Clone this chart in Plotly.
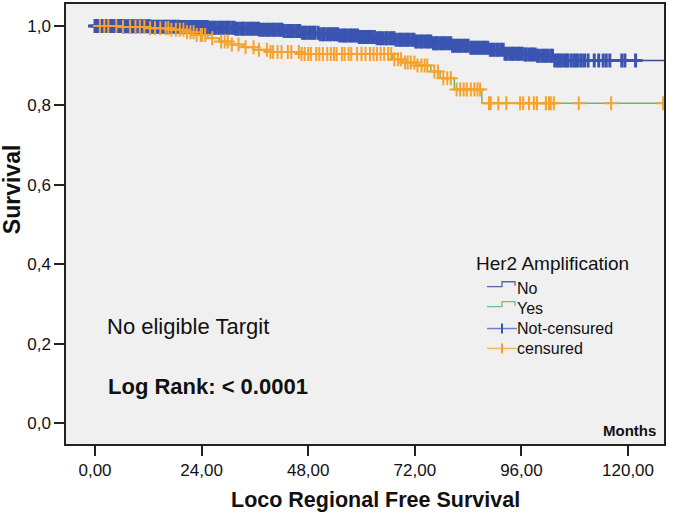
import numpy as np
import plotly.graph_objects as go

# ---------------- data ----------------
no_event_months = [0, 6.3, 12.7, 19, 25.4, 31.7, 37, 42.3, 46.5, 50.7, 55, 59.2, 63.4, 67.6, 71.9,
                   76.1, 80.3, 84.6, 88.7, 92.2, 96.5, 99.4, 103.5]
no_survival = [1.0, 0.999, 0.998, 0.997, 0.995, 0.993, 0.990, 0.987, 0.983, 0.979, 0.976, 0.972, 0.969,
               0.965, 0.961, 0.956, 0.950, 0.945, 0.940, 0.930, 0.928, 0.925, 0.913]
no_last_followup = 131.0

yes_event_months = [0, 5.3, 11.6, 16.9, 20.6, 22.7, 25.4, 28.0, 30.7, 33.3, 35.9, 39.1, 46.5,
                    67.0, 69.2, 72.4, 75.6, 77.7, 80.9, 87.1]
yes_survival = [1.0, 0.997, 0.994, 0.99, 0.984, 0.977, 0.969, 0.961, 0.953, 0.946, 0.94, 0.934, 0.929,
                0.916, 0.908, 0.9, 0.885, 0.868, 0.84, 0.805]
yes_last_followup = 127.9

no_censored_months = [
    0.0, 0.4, 0.9, 1.3, 1.8, 2.4, 2.9, 3.3, 3.8, 4.4, 4.9, 5.3, 5.9, 6.4, 6.8, 7.3, 7.9, 8.4, 8.8, 9.3, 9.9,
    10.4, 10.8, 11.4, 11.9, 12.3, 12.8, 13.4, 13.9, 14.3, 14.8, 15.4, 15.9, 16.3, 16.9, 17.4, 17.8, 18.3, 18.9, 19.4, 19.8,
    20.3, 20.9, 21.4, 21.8, 22.4, 22.9, 23.3, 23.8, 24.4, 24.9, 25.3, 25.9, 26.4, 26.8, 27.3, 27.9, 28.4, 28.8, 29.4, 29.9,
    30.2, 30.8, 31.3, 31.7, 32.2, 32.8, 33.3, 33.6, 34.2, 34.8, 35.2, 35.7, 36.3, 36.8, 37.1, 37.7, 38.2, 38.7, 39.1, 39.7,
    40.2, 40.6, 41.2, 41.7, 42.1, 42.6, 43.2, 43.7, 44.1, 44.6, 45.2, 45.6, 46.1, 46.7, 47.2, 47.5, 48.1, 48.6, 49.1, 49.5,
    50.2, 50.7, 51.3, 51.6, 52.2, 52.8, 53.1, 53.7, 54.2, 54.6, 55.1, 55.7, 56.2, 56.5, 57.1, 57.6, 58.0, 58.6, 59.1, 59.5,
    60.0, 60.6, 61.1, 61.4, 62.0, 62.5, 62.9, 63.5, 64.0, 64.4, 64.9, 65.5, 65.8, 66.4, 66.9, 67.3, 67.8, 68.4, 68.9, 69.2, 69.8,
    70.3, 70.7, 71.3, 71.8, 72.2, 72.7, 73.3, 73.6, 74.2, 74.7, 75.1, 75.6, 76.2, 76.7, 77.0, 77.6, 78.1, 78.5, 79.0, 79.6,
    80.1, 80.5, 81.0, 81.6, 82.0, 82.5, 83.1, 83.5, 84.0, 84.6, 85.0, 85.5, 86.1, 86.4, 87.0, 87.5, 87.9, 88.4, 89.0, 89.4, 89.9,
    90.5, 90.8, 91.4, 91.9, 92.3, 92.8, 93.4, 93.9, 94.2, 94.8, 95.3, 95.7, 96.2, 96.8, 97.1, 97.7, 98.2, 98.6, 99.1, 99.6,
    100.0, 100.6, 101.1, 101.5, 102.0, 102.6, 103.0, 103.5, 104.1, 104.5, 105.0, 105.6, 106.1, 106.5, 107.2, 107.8,
    108.3, 108.8, 109.5, 110.2, 111.0,
    112.4, 113.4, 114.4, 115.1, 115.9, 118.6, 119.3, 121.7,
]

yes_censored_months = [
    1.1, 2.1, 3.0, 4.8, 6.3, 7.9, 9.1, 10.1, 11.1, 12.4, 13.5, 14.7, 15.9, 16.5, 17.2, 18.2, 19.1, 19.9,
    20.7, 21.5, 22.2, 22.9, 23.8, 24.1, 24.8, 26.4, 28.4, 29.2, 29.9, 30.8, 32.3, 33.9, 35.7, 36.9, 38.7,
    39.5, 40.1, 41.1, 42.0, 43.4, 44.2, 45.9, 46.5, 47.2, 48.0, 48.6, 49.8, 50.5, 51.3, 52.3, 53.1, 53.8,
    54.4, 55.6, 56.2, 57.1, 57.7, 59.0, 60.0, 60.9, 61.9, 62.7, 63.5, 64.3, 65.1, 66.0, 66.7, 67.4, 68.2,
    68.9, 69.8, 70.4, 71.1, 71.9, 72.6, 73.5, 74.2, 74.8, 76.4, 77.2, 78.4, 79.3, 80.1, 81.4, 82.2, 83.0,
    83.7, 84.6, 85.4, 86.1, 86.7, 88.7, 89.1, 90.8, 92.6, 95.7, 96.4, 97.7, 98.8, 99.5, 101.5, 102.2,
    102.6, 103.3, 108.9, 116.2, 127.9,
]

x_tick_values = [0, 24, 48, 72, 96, 120]
x_tick_labels = ["0,00", "24,00", "48,00", "72,00", "96,00", "120,00"]
y_tick_values = [0, 0.2, 0.4, 0.6, 0.8, 1.0]
y_tick_labels = ["0,0", "0,2", "0,4", "0,6", "0,8", "1,0"]

legend_title = "Her2 Amplification"
group_names = ["No", "Yes"]
censor_names = ["Not-censured", "censured"]

# ---------------- styling ----------------
FONT = "Liberation Sans, Arial, sans-serif"
TXT = "#111111"
NO_LINE = "#35488E"
YES_LINE = "#62BC72"
NO_MARK = "#3A54B2"
YES_MARK = "#F6A22D"
W, H = 685, 526
ML, MR, MT, MB = 66, 21, 2, 82
PW, PH = W - ML - MR, H - MT - MB


def px_x(px):
    return (px - ML) / PW


def px_y(py):
    return (H - MB - py) / PH


def step_value(times, surv, t):
    idx = np.searchsorted(np.asarray(times), np.asarray(t), side="right") - 1
    return np.asarray(surv)[idx]


fig = go.Figure()

fig.add_trace(go.Scatter(
    x=no_event_months + [no_last_followup], y=no_survival + [no_survival[-1]],
    mode="lines", line=dict(shape="hv", color=NO_LINE, width=1.5), name=group_names[0], showlegend=False))
fig.add_trace(go.Scatter(
    x=yes_event_months + [yes_last_followup], y=yes_survival + [yes_survival[-1]],
    mode="lines", line=dict(shape="hv", color=YES_LINE, width=1.5), name=group_names[1], showlegend=False))
fig.add_trace(go.Scatter(
    x=no_censored_months, y=step_value(no_event_months, no_survival, no_censored_months),
    mode="markers", name=censor_names[0], showlegend=False,
    marker=dict(symbol="cross-thin", size=10, line=dict(color=NO_MARK, width=3), color=NO_MARK)))
fig.add_trace(go.Scatter(
    x=yes_censored_months, y=step_value(yes_event_months, yes_survival, yes_censored_months),
    mode="markers", name=censor_names[1], showlegend=False,
    marker=dict(symbol="cross-thin", size=10, line=dict(color=YES_MARK, width=2), color=YES_MARK)))

axis_common = dict(showgrid=False, zeroline=False, showline=True, mirror=True,
                   linecolor="#222222", linewidth=1.5, ticks="outside", ticklen=10,
                   tickwidth=1.5, tickcolor="#222222",
                   tickfont=dict(family=FONT, size=17, color=TXT))

# ---- hand-drawn legend (step icons like the original) ----
leg_x0, leg_x1, leg_text_x = 487, 517, 515
leg_rows = [288, 308, 328, 348]
shapes = []
for row, col in zip(leg_rows[:2], ["#5566A8", "#6CC07A"]):
    mid = (leg_x0 + leg_x1) / 2
    path = (f"M {px_x(leg_x0)} {px_y(row - 2)} L {px_x(mid)} {px_y(row - 2)} "
            f"L {px_x(mid)} {px_y(row - 7)} L {px_x(leg_x1 - 2)} {px_y(row - 7)} "
            f"L {px_x(leg_x1 - 2)} {px_y(row - 3)}")
    shapes.append(dict(type="path", path=path, xref="paper", yref="paper",
                       line=dict(color=col, width=1.3)))
for row, hcol, vcol in zip(leg_rows[2:], ["#6F7FC4", "#F3B860"], [NO_MARK, YES_MARK]):
    mid = (leg_x0 + leg_x1) / 2
    shapes.append(dict(type="line", xref="paper", yref="paper",
                       x0=px_x(leg_x0), x1=px_x(leg_x1), y0=px_y(row), y1=px_y(row),
                       line=dict(color=hcol, width=1.5)))
    shapes.append(dict(type="line", xref="paper", yref="paper",
                       x0=px_x(mid), x1=px_x(mid), y0=px_y(row - 5), y1=px_y(row + 5),
                       line=dict(color=vcol, width=2)))

annotations = [
    dict(text=legend_title, x=px_x(474), y=px_y(263), xanchor="left", yanchor="middle",
         font=dict(family=FONT, size=19, color=TXT)),
]
for row, name in zip(leg_rows, group_names + censor_names):
    annotations.append(dict(text=name, x=px_x(leg_text_x), y=px_y(row), xanchor="left",
                            yanchor="middle", font=dict(family=FONT, size=16, color=TXT)))
annotations += [
    dict(text="No eligible Targit", x=px_x(105), y=px_y(326), xanchor="left", yanchor="middle",
         font=dict(family=FONT, size=22, color=TXT)),
    dict(text="<b>Log Rank: < 0.0001</b>", x=px_x(106), y=px_y(386), xanchor="left", yanchor="middle",
         font=dict(family=FONT, size=22, color=TXT)),
    dict(text="<b>Months</b>", x=1, y=0, xshift=-6, yshift=3, xanchor="right", yanchor="bottom",
         font=dict(family=FONT, size=15, color=TXT)),
    dict(text="<b>Survival</b>", x=px_x(12), y=px_y(188), xanchor="center", yanchor="middle",
         textangle=-90, font=dict(family=FONT, size=23, color=TXT)),
    dict(text="<b>Loco Regional Free Survival</b>", x=px_x(375), y=px_y(500), xanchor="center",
         yanchor="middle", font=dict(family=FONT, size=21.5, color=TXT)),
]
for a in annotations:
    a.update(xref="paper", yref="paper", showarrow=False)

fig.update_layout(
    width=W, height=H,
    margin=dict(l=ML, r=MR, t=MT, b=MB),
    paper_bgcolor="white", plot_bgcolor="#F0F0F0",
    font=dict(family=FONT, color=TXT),
    showlegend=False,
    xaxis=dict(range=[-6.53, 128.1], tickvals=x_tick_values, ticktext=x_tick_labels, **axis_common),
    yaxis=dict(range=[-0.0526, 1.0551], tickvals=y_tick_values, ticktext=y_tick_labels, **axis_common),
    shapes=shapes,
    annotations=annotations,
)

fig.write_html("out.html", config={"displayModeBar": False},
               post_script="document.body.style.margin='0px';document.body.style.overflow='hidden';")
